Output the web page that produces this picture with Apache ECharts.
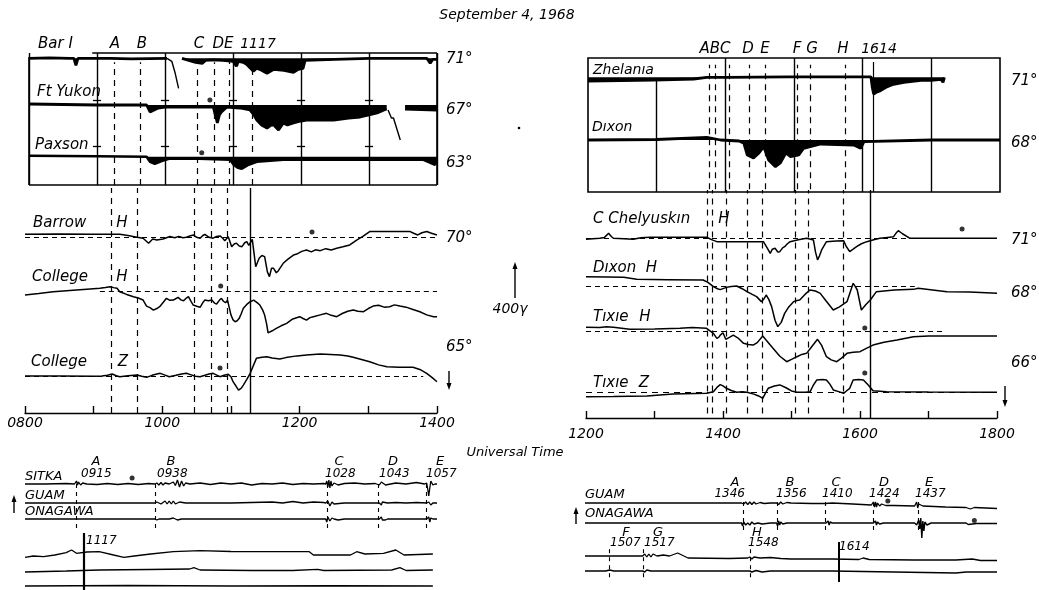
<!DOCTYPE html>
<html><head><meta charset="utf-8">
<script src="https://cdn.jsdelivr.net/npm/echarts@6/dist/echarts.min.js"></script>
<style>html,body{margin:0;padding:0;background:#fff}#c{width:1039px;height:590px}</style>
</head><body><div id="c"></div>
<script>
// ---------------- DATA (time in decimal hours UT) ----------------
// Riometer-type records (deflection, chart units; negative = absorption dip)
const barI = [[8.0,0],[8.3,0.5],[8.6,0],[8.66,0],[8.69,-7],[8.72,0],[9.2,0],[9.5,-0.5],[10.03,0]];
const barIPen = [[10.03,0],[10.1,-3],[10.15,-15],[10.2,-30]];
const barI2 = [[10.25,0],[10.35,-2],[10.45,-4],[10.55,-5],[10.6,-2],[10.7,-1.5],[10.85,-2],[11.0,-3],[11.05,-8],[11.08,-3],[11.15,-4],[11.2,-6],[11.3,-13],[11.35,-10],[11.42,-12],[11.5,-15],[11.6,-11],[11.75,-12],[11.89,-14],[11.96,-11],[12.03,-10],[12.06,-2],[12.5,-1],[13.0,0],[13.5,0],[13.85,0],[13.9,-5],[13.94,-1],[14.0,-1]];
const ftYukon = [[8.0,1],[8.5,0.5],[9.0,0],[9.73,0],[9.78,-7],[9.84,-5],[9.9,-3],[10.0,-2],[10.5,-2],[10.71,-2],[10.74,-10],[10.77,-18],[10.8,-10],[10.83,-7],[10.91,-2],[11.1,-3],[11.25,-5],[11.3,-9],[11.35,-15],[11.42,-20],[11.5,-23],[11.56,-20],[11.6,-20],[11.67,-25],[11.74,-18],[11.8,-20],[11.89,-18],[12.0,-16],[12.08,-15],[12.3,-15],[12.48,-15],[12.7,-13],[12.87,-12],[13.0,-10],[13.12,-8],[13.22,-5],[13.26,-4]];
const ftYukonPen = [[13.28,-5],[13.33,-13],[13.36,-13],[13.46,-35]];
const ftYukon2 = [[13.53,-4],[14.0,-5]];
const paxson = [[8.0,1],[9.0,0.5],[9.73,0],[9.78,-5],[9.85,-7],[9.96,-4],[10.06,-2],[10.5,-2],[10.96,-3],[11.01,-8],[11.07,-11],[11.13,-12],[11.23,-8],[11.35,-5],[11.74,-3],[13.0,-3],[13.8,-3],[13.87,-5],[13.97,-8],[14.0,-3]];
const zhelania = [[12.0,-3.7],[12.95,-2.7],[13.54,-1.7],[13.73,0],[14.02,0],[14.9,0.5],[16.12,0.5],[16.14,-10],[16.16,-16.7],[16.2,-15],[16.26,-13.3],[16.36,-9.3],[16.45,-7],[16.6,-5],[16.85,-3],[17.0,-3],[17.14,-2],[17.17,-5],[17.19,0]];
const dixonRio = [[12.0,0],[13.0,0.5],[13.73,2.7],[13.93,0],[14.2,-1],[14.27,-3.3],[14.32,-15],[14.41,-18],[14.49,-13],[14.56,-6.7],[14.63,-20],[14.73,-26.7],[14.8,-23],[14.88,-13],[14.95,-16.7],[15.07,-15],[15.14,-8.3],[15.39,-4],[15.87,-5],[15.97,-8.3],[16.02,-1.7],[17.0,0],[18.0,0]];

// Magnetograms (deflection in gamma)
const barrowH = [[8.0,33],[8.5,35],[9.0,33],[9.38,33],[9.5,20],[9.63,0],[9.72,-10],[9.80,-66],[9.86,-19],[9.92,-30],[10.01,-19],[10.06,-5],[10.11,8],[10.18,-5],[10.24,10],[10.30,-5],[10.35,0],[10.40,15],[10.45,26],[10.50,0],[10.55,-10],[10.59,20],[10.62,33],[10.68,0],[10.74,-10],[10.79,10],[10.84,15],[10.88,-10],[10.91,-37],[10.96,7],[11.01,-103],[11.05,-70],[11.08,-66],[11.12,-95],[11.16,-103],[11.20,-60],[11.23,-48],[11.26,-90],[11.28,-84],[11.31,-22],[11.32,-20],[11.36,-323],[11.41,-231],[11.45,-200],[11.49,-213],[11.53,-380],[11.56,-433],[11.59,-340],[11.62,-341],[11.66,-390],[11.69,-367],[11.76,-286],[11.83,-240],[11.91,-195],[11.97,-180],[12.03,-155],[12.10,-140],[12.17,-160],[12.23,-138],[12.30,-147],[12.38,-125],[12.46,-140],[12.54,-121],[12.63,-105],[12.73,-84],[12.83,-30],[12.92,10],[13.02,63],[13.3,63],[13.61,63],[13.66,45],[13.72,26],[13.78,50],[13.85,63],[13.92,45],[14.0,26]];
const collegeH = [[8.0,-37],[8.2,-20],[8.41,0],[8.7,15],[8.90,26],[9.09,37],[9.17,45],[9.24,55],[9.29,45],[9.34,37],[9.38,0],[9.48,-30],[9.58,-55],[9.65,-70],[9.72,-92],[9.77,-158],[9.82,-175],[9.87,-202],[9.92,-185],[9.97,-158],[10.02,-110],[10.06,-73],[10.11,-95],[10.16,-92],[10.20,-75],[10.23,-62],[10.27,-90],[10.31,-99],[10.35,-70],[10.38,-55],[10.42,-110],[10.45,-147],[10.50,-160],[10.55,-172],[10.59,-120],[10.62,-92],[10.67,-100],[10.72,-92],[10.76,-125],[10.79,-136],[10.83,-95],[10.86,-73],[10.89,-105],[10.92,-121],[10.95,-95],[10.97,-81],[11.0,-257],[11.03,-310],[11.06,-330],[11.09,-320],[11.12,-293],[11.15,-240],[11.18,-183],[11.23,-140],[11.28,-110],[11.33,-92],[11.38,-120],[11.42,-147],[11.46,-200],[11.49,-257],[11.52,-360],[11.54,-453],[11.60,-430],[11.66,-403],[11.73,-375],[11.81,-348],[11.90,-300],[12.0,-275],[12.05,-295],[12.10,-312],[12.15,-285],[12.20,-275],[12.30,-255],[12.39,-238],[12.46,-260],[12.54,-275],[12.62,-240],[12.70,-215],[12.78,-202],[12.85,-215],[12.93,-220],[13.0,-185],[13.07,-158],[13.15,-150],[13.23,-170],[13.31,-165],[13.38,-145],[13.46,-158],[13.55,-170],[13.65,-195],[13.75,-220],[13.85,-255],[13.95,-275],[14.0,-275]];
const collegeZ = [[8.0,7],[8.5,7],[9.0,5],[9.12,7],[9.2,15],[9.27,29],[9.33,10],[9.38,0],[9.5,10],[9.63,18],[9.70,5],[9.77,-7],[9.85,15],[9.92,30],[9.97,37],[10.03,20],[10.10,0],[10.2,15],[10.28,30],[10.35,37],[10.42,20],[10.48,5],[10.55,0],[10.62,15],[10.68,30],[10.74,37],[10.80,15],[10.84,0],[10.90,15],[10.96,26],[11.0,0],[11.03,-55],[11.07,-100],[11.11,-147],[11.15,-125],[11.18,-92],[11.23,-30],[11.28,37],[11.33,130],[11.37,202],[11.45,215],[11.52,220],[11.60,205],[11.71,194],[11.80,210],[11.96,229],[12.10,240],[12.30,249],[12.45,245],[12.59,238],[12.70,228],[12.78,213],[12.90,190],[13.02,165],[13.15,130],[13.27,110],[13.45,105],[13.65,103],[13.75,80],[13.85,37],[13.93,-10],[14.0,-55]];
const chelyuskinH = [[12.0,-11],[12.1,-5],[12.2,0],[12.27,10],[12.33,55],[12.37,20],[12.4,0],[12.55,-5],[12.69,-11],[12.8,5],[12.93,11],[13.3,11],[13.76,11],[13.85,-20],[13.91,-37],[14.3,-37],[14.59,-37],[14.64,-100],[14.69,-165],[14.72,-120],[14.76,-110],[14.80,-150],[14.83,-147],[14.87,-105],[14.9,-92],[14.94,-60],[14.98,-37],[15.1,-15],[15.22,0],[15.32,-18],[15.35,-150],[15.38,-238],[15.41,-190],[15.44,-128],[15.51,-37],[15.65,-30],[15.76,-26],[15.80,-90],[15.85,-147],[15.9,-120],[15.95,-92],[16.02,-60],[16.1,-37],[16.2,-15],[16.29,0],[16.4,10],[16.49,18],[16.53,60],[16.56,84],[16.62,50],[16.73,0],[17.0,0],[18.0,0]];
const dixonH = [[12.0,103],[12.3,100],[12.55,95],[12.74,73],[13.2,70],[13.71,66],[13.78,40],[13.86,-7],[13.92,-30],[13.96,-40],[14.05,-15],[14.12,-5],[14.2,0],[14.28,-30],[14.35,-62],[14.42,-90],[14.49,-117],[14.56,-172],[14.60,-140],[14.63,-99],[14.67,-150],[14.71,-227],[14.76,-380],[14.8,-447],[14.85,-400],[14.9,-301],[14.96,-230],[15.03,-172],[15.08,-160],[15.12,-154],[15.2,-90],[15.27,-44],[15.35,-55],[15.42,-81],[15.5,-160],[15.61,-264],[15.7,-230],[15.81,-172],[15.86,-60],[15.9,29],[15.93,-5],[15.96,-44],[16.02,-264],[16.08,-210],[16.15,-154],[16.24,-62],[16.5,-45],[16.78,-37],[16.85,-25],[17.27,-62],[17.6,-65],[18.0,-81]];
const tixieH = [[12.0,48],[12.2,45],[12.3,55],[12.4,48],[12.64,26],[13.0,30],[13.37,37],[13.55,45],[13.76,37],[13.86,-18],[13.91,-73],[13.94,-60],[13.96,-37],[14.0,-11],[14.04,-84],[14.1,-60],[14.15,-37],[14.22,-70],[14.3,-128],[14.37,-140],[14.44,-147],[14.5,-120],[14.58,-48],[14.65,-110],[14.73,-183],[14.83,-270],[14.93,-330],[15.0,-305],[15.08,-275],[15.15,-250],[15.22,-238],[15.3,-160],[15.38,-84],[15.44,-150],[15.51,-275],[15.58,-310],[15.66,-330],[15.73,-290],[15.81,-238],[15.9,-225],[16.0,-220],[16.1,-180],[16.19,-147],[16.35,-115],[16.54,-92],[16.78,-55],[17.0,-48],[17.27,-48],[18.0,-48]];
const tixieZ = [[12.0,-48],[12.4,-45],[12.89,-40],[13.27,-18],[13.76,-11],[13.86,7],[13.92,60],[13.96,84],[14.0,70],[14.05,44],[14.12,20],[14.2,0],[14.28,5],[14.35,0],[14.45,-20],[14.52,-40],[14.58,-66],[14.62,-10],[14.66,44],[14.75,70],[14.83,81],[14.92,50],[15.0,15],[15.08,0],[15.2,0],[15.27,5],[15.32,80],[15.37,136],[15.45,140],[15.51,136],[15.56,90],[15.61,26],[15.7,5],[15.76,-11],[15.81,20],[15.85,44],[15.9,136],[15.98,140],[16.05,136],[16.12,80],[16.19,18],[16.39,7],[17.0,3],[18.0,0]];

// Seismograms (deflection, chart units)
const sitka1 = [[9.0,0],[9.1,0],[9.2,0.5],[9.24,0],[9.25,3],[9.255,-1],[9.26,2],[9.27,-1],[9.28,1],[9.3,0],[9.35,-0.5],[9.4,0.5],[9.45,-0.5],[9.5,0.5],[9.55,-0.5],[9.6,0.5],[9.63,0],[9.64,1],[9.65,-1],[9.66,1.5],[9.67,-1],[9.68,1],[9.7,0],[9.72,2],[9.73,-1.5],[9.74,4],[9.75,-3],[9.76,3],[9.77,-2],[9.78,1],[9.8,0],[9.85,1],[9.9,-0.5],[9.95,1],[10.0,0],[10.05,1],[10.1,-1],[10.15,0.5],[10.2,0],[10.25,1],[10.3,-0.5],[10.35,0.5],[10.4,0],[10.45,0.5],[10.46,0],[10.465,3],[10.47,-3],[10.475,4],[10.48,-4],[10.485,3],[10.49,-2],[10.5,1],[10.52,-1],[10.55,0.5],[10.6,1],[10.65,0],[10.7,0.5],[10.72,-1],[10.73,2],[10.75,-1],[10.8,1],[10.85,0],[10.9,1.5],[10.94,0],[10.95,1],[10.955,-5],[10.96,-12],[10.965,-4],[10.97,3],[10.98,-1],[10.99,0],[11.0,0]];
const guam1 = [[9.0,0],[9.63,0],[9.64,1],[9.66,-1],[9.68,2],[9.69,-1],[9.7,2],[9.71,-1],[9.72,2],[9.73,-1],[9.75,1],[9.78,0],[9.9,0],[10.0,0],[10.1,0.5],[10.2,1],[10.25,0],[10.3,1.5],[10.35,0],[10.4,1],[10.45,0.5],[10.46,0],[10.47,2],[10.48,-3],[10.49,1],[10.5,-1],[10.55,0],[10.7,0],[10.72,0],[10.725,2],[10.73,-2],[10.735,1],[10.74,-1],[10.76,0],[10.8,0.5],[10.85,0],[10.9,0.5],[10.95,0],[10.955,-2],[10.96,1],[10.97,-2],[10.98,0],[11.0,0]];
const onagawa1 = [[9.0,0],[9.63,0],[9.64,-1],[9.65,0],[9.7,0],[9.72,1],[9.74,-1],[9.76,0],[10.0,0],[10.46,0],[10.465,-3],[10.47,2],[10.48,-2],[10.49,1],[10.5,0],[10.52,-1],[10.55,0],[10.72,0],[10.725,-2],[10.73,2],[10.735,-1],[10.74,1],[10.75,-1],[10.76,0],[10.95,0],[10.955,-2],[10.96,2],[10.965,-3],[10.97,1],[10.98,0],[11.0,0]];
const sitka2 = [[11.0,-2.3],[11.04,-1],[11.09,-1.7],[11.145,0],[11.2,2.3],[11.226,5],[11.25,1.7],[11.3,3],[11.36,3.3],[11.43,0],[11.48,-2.3],[11.53,-1],[11.61,1],[11.72,3.3],[11.85,4.3],[12.0,3.5],[12.14,3.3],[12.38,3.3],[12.4,0],[12.58,0],[12.61,3.3],[12.65,1],[12.74,1.7],[12.8,5],[12.84,0],[12.98,1]];
const guam2 = [[11.0,-1],[11.2,0],[11.36,1],[11.6,1.5],[11.8,2],[11.82,3.3],[11.85,1],[12.1,0.5],[12.3,0.5],[12.42,1.7],[12.45,0.5],[12.78,1],[12.82,3.3],[12.85,0.5],[12.98,1]];
const onagawa2 = [[11.0,0],[11.5,0.5],[12.0,0],[12.5,0.3],[12.98,0]];
const guamR1 = [[13.0,0],[13.5,0],[13.76,0],[13.77,-1],[13.78,1],[13.79,-1.5],[13.8,1],[13.81,-1.5],[13.82,1],[13.83,-1],[13.85,0.5],[13.87,-0.5],[13.9,0],[13.93,0],[13.935,1.5],[13.94,-1.5],[13.95,1],[13.96,-1],[13.98,0.5],[14.0,0],[14.1,-0.5],[14.167,-0.5],[14.17,0.5],[14.2,0],[14.3,-1],[14.39,-2],[14.4,1],[14.405,-4],[14.41,1],[14.415,-4],[14.42,0],[14.43,-3],[14.44,-1],[14.46,-2.5],[14.5,-2.5],[14.6,-3],[14.61,1],[14.615,-5],[14.62,-1],[14.64,-3],[14.75,-4],[14.85,-4.5],[14.87,-6],[14.89,-4.5],[15.0,-5.5]];
const onagawaR1 = [[13.0,0],[13.76,0],[13.765,-3],[13.77,1],[13.78,-2],[13.79,0],[13.8,-2],[13.81,1],[13.82,-1],[13.84,0],[13.86,-1],[13.9,0],[13.93,0],[13.935,-3],[13.94,2],[13.945,-2],[13.95,1],[13.96,-1],[13.98,0],[14.17,0],[14.175,-2],[14.18,2],[14.185,-2],[14.19,1],[14.2,0],[14.4,0],[14.405,-2],[14.41,2],[14.415,-2],[14.42,1],[14.43,-1],[14.45,0],[14.6,0],[14.61,-2],[14.62,3],[14.625,-6],[14.63,5],[14.635,-15],[14.64,2],[14.645,-8],[14.65,1],[14.66,-2],[14.68,0],[14.85,0],[14.86,-1.5],[14.9,-0.5],[15.0,-0.5]];
const guamR2 = [[15.0,0],[15.2,0],[15.28,0],[15.29,2],[15.3,-1],[15.31,2],[15.32,-1],[15.33,2],[15.35,0],[15.38,1],[15.41,0],[15.45,3],[15.48,0],[15.5,-2],[15.7,-2.5],[15.79,-2],[15.8,-1],[15.81,-3],[15.82,-1],[15.85,-2],[15.9,-1.5],[15.95,-2.5],[16.0,-3],[16.2,-3],[16.33,-3.5],[16.35,-2],[16.38,-3.5],[16.6,-4],[16.8,-4],[16.88,-3],[16.92,-4.5],[17.0,-4.5]];
const onagawaR2 = [[15.0,0],[15.1,0],[15.12,1],[15.14,0],[15.2,0],[15.28,0],[15.285,2],[15.29,-1],[15.3,1],[15.32,0],[15.5,0],[15.8,0],[15.81,-1],[15.83,0.5],[15.86,-1],[15.9,0],[16.2,0],[16.5,-1],[16.8,-2],[16.85,-1],[17.0,-1]];

// Event times (decimal hours)
const leftEvents = [9.25, 9.633, 10.467, 10.717, 10.95];
const leftMain = 11.283;
const rightEvents = [13.77, 13.85, 14.05, 14.35, 14.58, 15.05, 15.24, 15.75];
const rightMain = 16.15;
const seisLeftTimes = [9.25, 9.633, 10.467, 10.717, 10.95];
const seisRight1Times = [13.767, 13.933, 14.167, 14.4, 14.617];
const seisRight2Times = [15.117, 15.283, 15.8];
const seisRightMain = 16.233;
// Axis tick labels
const leftTickLabels = ['0800','','1000','','1200','','1400'];
const rightTickLabels = ['1200','','1400','','1600','','1800'];
// Baseline extents (hours)
const barrowBase = [8.0, 14.0], collegeHBase = [9.09, 14.0], collegeZBase = [8.0, 13.8];
const chelBase = [12.0, 16.8], dixonHBase = [12.0, 16.8], tixieHBase = [12.0, 17.2], tixieZBase = [12.0, 18.0];
// Marker dots [hour, value]
const dotBarrow = [[12.18, 58]], dotCollegeH = [[10.85, 63]], dotCollegeZ = [[10.84, 96]];
const dotFtYukon = [[10.66, 5]], dotPaxson = [[10.54, 4]];
const dotChel = [[17.49, 103]], dotTixieH = [[16.07, 41]], dotTixieZ = [[16.07, 212]];
const dotSitka = [[9.52, 6]], dotGuamR = [[14.47, 2]], dotOnaR = [[14.89, 2.5]];

// ---------------- BUILD ----------------
const FF = '"DejaVu Sans", Verdana, sans-serif';
const grids = [], xAxes = [], yAxes = [], series = [];
function addGrid(o, xo) {
  const i = grids.length;
  grids.push({left:o.left, top:o.top, width:o.width, height:o.height, show:!!o.border, borderColor:'#000', borderWidth:1.6, backgroundColor:'transparent'});
  xAxes.push(Object.assign({type:'value', gridIndex:i, min:o.xmin, max:o.xmax, show:false}, xo || {}));
  yAxes.push({type:'value', gridIndex:i, min:o.ymin, max:o.ymax, show:false});
  return i;
}
function strip(col, baseY, up, down, k) {
  return addGrid({left:col.left, width:col.width, xmin:col.xmin, xmax:col.xmax, top:baseY-up, height:up+down, ymin:-down*k, ymax:up*k});
}
function trace(g, data, w, fill) {
  const s = {type:'line', xAxisIndex:g, yAxisIndex:g, data:data, symbol:'none', silent:true, animation:false, clip:false,
    lineStyle:{color:'#000', width:w || 1.5}, z:3};
  if (fill) s.areaStyle = {color:'#000', opacity:1, origin:'auto'};
  series.push(s);
}
function segs(g, pairs, style) {
  series.push({type:'line', xAxisIndex:g, yAxisIndex:g, data:[], silent:true, animation:false,
    markLine:{silent:true, animation:false, symbol:['none','none'], label:{show:false},
      lineStyle:Object.assign({color:'#000', width:1.2, type:'solid'}, style || {}),
      data:pairs.map(p => [{coord:p[0]}, {coord:p[1]}])}});
}
function dots(g, data) {
  series.push({type:'scatter', xAxisIndex:g, yAxisIndex:g, data:data, symbolSize:5, silent:true, animation:false, itemStyle:{color:'#000'}, z:4});
}
const DASH = [6, 5];
const K = 11; // gamma per pixel

const TL = {left:29, width:408, xmin:8, xmax:14};
const ML = {left:25, width:412, xmin:8, xmax:14};
const TR = {left:588, width:412, xmin:12, xmax:18};
const MR = {left:586, width:411, xmin:12, xmax:18};
const LS1 = {left:25, width:412, xmin:9, xmax:11};
const LS2 = {left:25, width:412, xmin:11, xmax:13};
const RS1 = {left:585, width:412, xmin:13, xmax:15};
const RS2 = {left:585, width:412, xmin:15, xmax:17};

// Top-left box (border drawn as segments so the corner behind "Bar I" stays open)
const tlBox = addGrid({left:29, top:53, width:408, height:132, xmin:8, xmax:14, ymin:0, ymax:1},
  {show:true, interval:1, axisLine:{show:false}, axisTick:{show:false}, axisLabel:{show:false},
   splitLine:{show:true, lineStyle:{color:'#000', width:1.4}}});
segs(tlBox, [[[8,0],[14,0]],[[8.93,1],[14,1]],[[8,0],[8,0.97]],[[14,0],[14,1]]], {width:1.6});
segs(tlBox, leftEvents.concat([leftMain]).map(t => [[t,0],[t,0.93]]), {type:DASH, width:1.2});
const plusRows = [0.644, 0.295];
const plusHours = [9,10,11,12,13,14];
let plus = [];
plusRows.forEach(r => plusHours.forEach(h => plus.push([[h-0.06, r],[h+0.06, r]])));
segs(tlBox, plus, {width:1.3});

const gBar = strip(TL, 58.3, 5, 34, 1);
trace(gBar, barI, 2.8, true); trace(gBar, barIPen, 1.4); trace(gBar, barI2, 2.8, true);
const gFt = strip(TL, 105, 8, 36, 1);
trace(gFt, ftYukon, 2.8, true); trace(gFt, ftYukonPen, 1.4); trace(gFt, ftYukon2, 2.8, true);
dots(gFt, dotFtYukon);
const gPax = strip(TL, 156.7, 6, 15, 1);
trace(gPax, paxson, 2.6, true); dots(gPax, dotPaxson);

// Top-right box
const trBox = addGrid({left:588, top:58, width:412, height:134, xmin:12, xmax:18, ymin:0, ymax:1, border:true});
segs(trBox, [[[13,0],[13,0.836]],[[14,0],[14,1]],[[15,0],[15,1]],[[16,0],[16,1]],[[17,0],[17,1]]], {width:1.4});
segs(trBox, rightEvents.map(t => [[t,0.02],[t,0.95]]), {type:DASH, width:1.2});
segs(trBox, [[[rightMain,0],[rightMain,0.97]]], {width:1.2});
const gZh = strip(TR, 77.3, 6, 20, 1);
trace(gZh, zhelania, 2.8, true);
const gDxR = strip(TR, 140, 6, 30, 1);
trace(gDxR, dixonRio, 2.8, true);

// Middle-left overlay with axis
const mlAx = addGrid({left:25, top:188, width:412, height:225, xmin:8, xmax:14, ymin:0, ymax:1},
  {show:true, interval:1, position:'bottom',
   axisLine:{show:true, lineStyle:{color:'#000', width:1.4}},
   axisTick:{show:true, inside:true, length:7, lineStyle:{color:'#000', width:1.4}},
   axisLabel:{show:true, color:'#000', fontSize:14, fontStyle:'italic', fontFamily:FF, margin:3,
     formatter:v => leftTickLabels[Math.round(v-8)] || ''},
   splitLine:{show:false}});
segs(mlAx, leftEvents.map(t => [[t,0],[t,1]]), {type:DASH, width:1.2});
segs(mlAx, [[[leftMain,0.0],[leftMain,1]]], {width:1.4});
const gBarrow = strip(ML, 237.3, 10, 42, K);
segs(gBarrow, [[[barrowBase[0],0],[barrowBase[1],0]]], {type:[5,4], width:1.1});
trace(gBarrow, barrowH); dots(gBarrow, dotBarrow);
const gColH = strip(ML, 291.7, 8, 45, K);
segs(gColH, [[[collegeHBase[0],0],[collegeHBase[1],0]]], {type:[5,4], width:1.1});
trace(gColH, collegeH); dots(gColH, dotCollegeH);
const gColZ = strip(ML, 376.7, 25, 16, K);
segs(gColZ, [[[collegeZBase[0],0],[collegeZBase[1],0]]], {type:[5,4], width:1.1});
trace(gColZ, collegeZ); dots(gColZ, dotCollegeZ);

// Middle-right overlay with axis
const mrAx = addGrid({left:586, top:190, width:411, height:228, xmin:12, xmax:18, ymin:0, ymax:1},
  {show:true, interval:1, position:'bottom',
   axisLine:{show:true, lineStyle:{color:'#000', width:1.4}},
   axisTick:{show:true, inside:true, length:7, lineStyle:{color:'#000', width:1.4}},
   axisLabel:{show:true, color:'#000', fontSize:14, fontStyle:'italic', fontFamily:FF, margin:9,
     formatter:v => rightTickLabels[Math.round(v-12)] || ''},
   splitLine:{show:false}});
segs(mrAx, rightEvents.map(t => [[t,0.02],[t,1]]), {type:DASH, width:1.2});
segs(mrAx, [[[rightMain,0],[rightMain,1]]], {width:1.4});
const gChel = strip(MR, 238.3, 12, 25, K);
segs(gChel, [[[chelBase[0],0],[chelBase[1],0]]], {type:[5,4], width:1.1});
trace(gChel, chelyuskinH); dots(gChel, dotChel);
const gDxH = strip(MR, 286, 12, 45, K);
segs(gDxH, [[[dixonHBase[0],0],[dixonHBase[1],0]]], {type:[5,4], width:1.1});
trace(gDxH, dixonH);
const gTxH = strip(MR, 331.7, 8, 35, K);
segs(gTxH, [[[tixieHBase[0],0],[tixieHBase[1],0]]], {type:[5,4], width:1.1});
trace(gTxH, tixieH); dots(gTxH, dotTixieH);
const gTxZ = strip(MR, 392.3, 22, 10, K);
segs(gTxZ, [[[tixieZBase[0],0],[tixieZBase[1],0]]], {type:[6,5], width:1.1});
trace(gTxZ, tixieZ); dots(gTxZ, dotTixieZ);

// Seismograms left
const ls1 = addGrid({left:25, top:482, width:412, height:46, xmin:9, xmax:11, ymin:0, ymax:1});
segs(ls1, seisLeftTimes.map(t => [[t,0],[t,1]]), {type:[4,4], width:1.1});
const gS1 = strip(LS1, 484, 12, 16, 1); trace(gS1, sitka1, 1.3); dots(gS1, dotSitka);
const gG1 = strip(LS1, 503, 12, 16, 1); trace(gG1, guam1, 1.3);
const gO1 = strip(LS1, 519, 12, 16, 1); trace(gO1, onagawa1, 1.3);
const ls2 = addGrid({left:25, top:533, width:412, height:57, xmin:11, xmax:13, ymin:0, ymax:1});
segs(ls2, [[[leftMain,0],[leftMain,1]]], {width:2.2});
const gS2 = strip(LS2, 555, 12, 16, 1); trace(gS2, sitka2, 1.3);
const gG2 = strip(LS2, 571, 12, 16, 1); trace(gG2, guam2, 1.3);
const gO2 = strip(LS2, 586, 4, 4, 1); trace(gO2, onagawa2, 1.5);

// Seismograms right
const rs1 = addGrid({left:585, top:502, width:412, height:28, xmin:13, xmax:15, ymin:0, ymax:1});
segs(rs1, seisRight1Times.map(t => [[t,0],[t,1]]), {type:[4,4], width:1.1});
const gGR1 = strip(RS1, 503, 12, 16, 1); trace(gGR1, guamR1, 1.3); dots(gGR1, dotGuamR);
const gOR1 = strip(RS1, 523, 12, 18, 1); trace(gOR1, onagawaR1, 1.4); dots(gOR1, dotOnaR);
const rs2 = addGrid({left:585, top:542, width:412, height:40, xmin:15, xmax:17, ymin:0, ymax:1});
segs(rs2, seisRight2Times.map(t => [[t,0.12],[t,0.92]]), {type:[4,4], width:1.1});
segs(rs2, [[[seisRightMain,0],[seisRightMain,1]]], {width:2});
const gGR2 = strip(RS2, 556, 12, 16, 1); trace(gGR2, guamR2, 1.3);
const gOR2 = strip(RS2, 571, 12, 16, 1); trace(gOR2, onagawaR2, 1.4);

// ---------------- TEXT / ANNOTATIONS ----------------
function T(text, x, y, size, align) {
  return {type:'text', x:x, y:y, z:20, silent:true,
    style:{text:text, fill:'#000', font:'italic ' + size + 'px ' + FF,
      textAlign:align || 'left', align:align || 'left', textVerticalAlign:'middle', verticalAlign:'middle'}};
}
function arrow(x, yTail, yHead) {
  const d = yHead < yTail ? 1 : -1;
  return [
    {type:'line', silent:true, z:20, shape:{x1:x, y1:yTail, x2:x, y2:yHead + d*4}, style:{stroke:'#000', lineWidth:1.4}},
    {type:'polygon', silent:true, z:20, shape:{points:[[x-2.5, yHead + d*7],[x+2.5, yHead + d*7],[x, yHead]]}, style:{fill:'#000'}}
  ];
}
const els = [
  T('September 4, 1968', 507, 15, 14, 'center'),
  T('Bar I', 38, 44, 15), T('A', 115, 44, 15, 'center'), T('B', 142, 44, 15, 'center'),
  T('C', 199, 44, 15, 'center'), T('DE', 223, 44, 15, 'center'), T('1117', 258, 44, 14, 'center'),
  T('Ft Yukon', 37, 92, 15), T('Paxson', 35, 145, 15),
  T('71°', 446, 59, 15), T('67°', 446, 110, 15), T('63°', 446, 163, 15),
  T('ABC', 715, 49, 15, 'center'), T('D', 748, 49, 15, 'center'), T('E', 765, 49, 15, 'center'),
  T('F', 797, 49, 15, 'center'), T('G', 812, 49, 15, 'center'), T('H', 843, 49, 15, 'center'),
  T('1614', 879, 49, 14, 'center'),
  T('Zhelanıa', 593, 70, 14), T('Dıxon', 592, 127, 14),
  T('71°', 1011, 81, 15), T('68°', 1011, 143, 15),
  T('Barrow', 33, 223, 15), T('H', 122, 223, 15, 'center'),
  T('College', 32, 277, 15), T('H', 122, 277, 15, 'center'),
  T('College', 31, 362, 15), T('Z', 123, 362, 15, 'center'),
  T('70°', 446, 238, 15), T('65°', 446, 347, 15),
  T('400γ', 510, 309, 14, 'center'),
  T('C Chelyuskın', 593, 219, 15), T('H', 724, 219, 15, 'center'),
  T('Dıxon  H', 593, 268, 15), T('Tıxıe', 593, 317, 15), T('H', 645, 317, 15, 'center'),
  T('Tıxıe', 593, 383, 15), T('Z', 644, 383, 15, 'center'),
  T('71°', 1011, 240, 15), T('68°', 1011, 293, 15), T('66°', 1011, 363, 15),
  T('Universal Time', 515, 453, 13, 'center'),
  T('SITKA', 25, 477, 13), T('GUAM', 25, 496, 13), T('ONAGAWA', 25, 512, 13),
  T('A', 96, 462, 13, 'center'), T('0915', 81, 474, 12),
  T('B', 171, 462, 13, 'center'), T('0938', 157, 474, 12),
  T('C', 339, 462, 13, 'center'), T('1028', 325, 474, 12),
  T('D', 393, 462, 13, 'center'), T('1043', 379, 474, 12),
  T('E', 440, 462, 13, 'center'), T('1057', 426, 474, 12),
  T('1117', 86, 541, 12),
  T('GUAM', 585, 495, 13), T('ONAGAWA', 585, 514, 13),
  T('A', 735, 483, 13, 'center'), T('1346', 745, 494, 12, 'right'),
  T('B', 790, 483, 13, 'center'), T('1356', 776, 494, 12),
  T('C', 836, 483, 13, 'center'), T('1410', 822, 494, 12),
  T('D', 884, 483, 13, 'center'), T('1424', 869, 494, 12),
  T('E', 929, 483, 13, 'center'), T('1437', 915, 494, 12),
  T('F', 626, 533, 13, 'center'), T('1507', 610, 543, 12),
  T('G', 658, 533, 13, 'center'), T('1517', 644, 543, 12),
  T('H', 757, 533, 13, 'center'), T('1548', 748, 543, 12),
  T('1614', 839, 547, 12),
  {type:'circle', silent:true, z:20, shape:{cx:519, cy:128, r:1.3}, style:{fill:'#000'}}
].concat(arrow(515, 298, 262), arrow(449, 371, 390), arrow(1005, 386, 407), arrow(14, 513, 495), arrow(576, 524, 507));

const chart = echarts.init(document.getElementById('c'), null, {renderer:'canvas'});
chart.setOption({
  animation:false, backgroundColor:'#fff',
  grid:grids, xAxis:xAxes, yAxis:yAxes, series:series,
  graphic:{elements:els}
});
</script></body></html>
